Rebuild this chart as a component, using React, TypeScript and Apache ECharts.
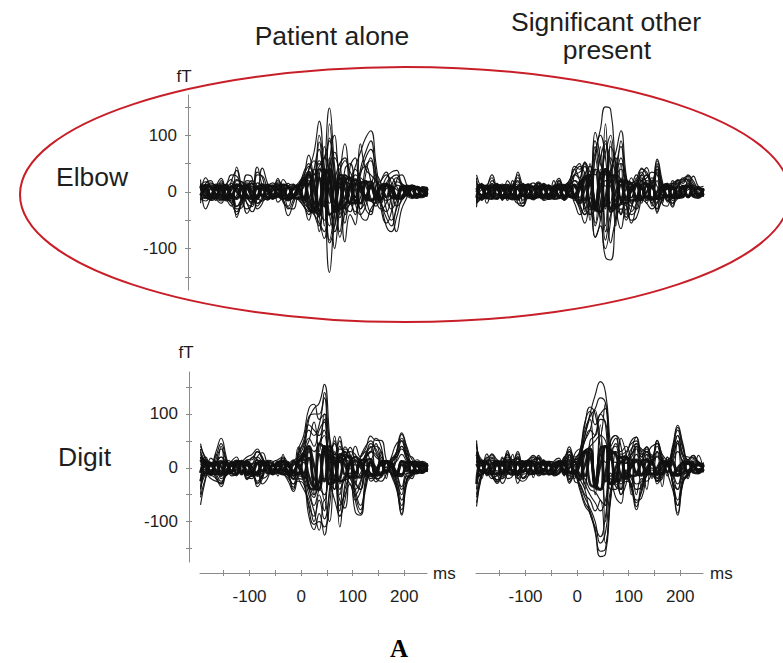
import React, { useEffect, useRef } from "react";
import * as echarts from "echarts";

// time samples (ms)
const TIMES = [
  -195, -185, -175, -165, -155, -145, -135, -125, -115, -105,
  -95, -85, -75, -65, -55, -45, -35, -25, -15, -5,
  5, 15, 25, 35, 45, 55, 65, 75, 85, 95,
  105, 115, 125, 135, 145, 155, 165, 175, 185, 195,
  205, 215, 225, 235, 245,
];

const Y_TICKS = [-150, -100, -50, 0, 50, 100, 150];
const Y_LABELS = [-100, 0, 100];
const X_TICKS = [-150, -100, -50, 0, 50, 100, 150, 200];
const X_LABELS = [-100, 0, 100, 200];

const COL_TITLES = ["Patient alone", "Significant other", "present"];
const ROW_LABELS = ["Elbow", "Digit"];

// ---- Elbow, patient alone (fT) ----
const EA1 = [5, -8, 6, 10, 4, -6, -12, 8, 10, -5, -8, 6, 4, -4, 2, 6, -3, -10, 4, 2, 8, 25, 18, -70, 35, 148, 45, -25, 18, 12, -15, 8, 20, 10, -8, -12, 6, 10, 4, -6, 5, 8, -4, 3, 2];
const EA2 = [-6, 4, 10, -5, 8, 12, -4, -10, 5, 8, 10, -6, -5, 4, -3, -8, 5, 8, -4, -5, 12, 40, 70, 125, 10, -142, -40, 30, 85, 20, -10, 25, 12, -15, -20, 8, 12, -8, -10, 5, -6, 4, 8, -5, -3];
const EA3 = [15, -10, -8, 12, 6, -10, 20, 38, -15, -30, -20, 35, 25, -10, -8, 12, 5, -15, -10, 4, 25, 65, 30, 88, -15, -60, 15, -80, -35, 15, 40, 20, -10, 8, 18, 5, -15, -10, 12, 8, -5, -8, 6, 4, -2];
const EA4 = [-8, 6, 12, 4, -10, 8, -5, -40, -20, 10, 15, -8, -5, 6, 10, 5, -12, -8, 6, -3, -10, 15, 30, 45, 60, 35, -25, 10, 30, 20, 45, 70, 95, 108, 50, -15, -60, -70, -45, -10, 8, 12, -5, -4, 5];
const EA5 = [6, 12, -5, -15, 20, 5, -8, 10, 8, -20, -35, -10, 42, 15, -5, -8, 22, 8, -12, 6, -18, -30, -40, -55, -70, 20, 60, 25, -88, -40, -58, 85, 40, 30, 20, 10, 25, 35, 38, 15, 10, 5, -4, 8, 6];
const EA6 = [22, -30, -10, 10, 24, -5, -20, 44, 5, -38, -15, 44, 10, -8, 8, 20, -10, -42, -20, 5, 15, -20, -35, 30, 60, 90, -20, -45, 15, 25, -20, 30, 60, 75, 35, -30, -55, -35, 20, 30, 12, -8, -10, 6, 4];
const EA7 = [-15, 25, 8, -12, -20, 5, 15, -45, -12, 30, 25, -30, -20, 6, -10, 24, 12, 15, -8, -10, -20, 40, 55, -40, -82, 50, 100, 40, 55, 35, 15, -40, -50, -30, -15, 20, 35, -20, -70, -30, -10, 12, 8, -6, -8];
const EA8 = [10, 9, -10, -11, 9, 12, -8, -12, 10, 11, -9, -12, 10, 9, -11, -8, 12, 10, -9, -12, 20, 35, -30, -40, 35, 30, -35, -25, 20, 25, -18, -20, 15, 18, -12, -14, 12, 10, -10, -12, 9, 10, -8, -9, 6];
const EA9 = [10, -9, -12, 8, 11, -10, -9, 12, 10, -11, -10, 9, 12, -10, -9, 11, 10, -12, -8, 10, 25, -30, -35, 40, 30, -40, -30, 30, 25, -20, -20, 15, 18, -14, -12, 12, 14, -10, -12, 10, 9, -8, -10, 8, 6];
const EA10 = [12, 0, -12, 11, 2, -13, 10, 1, -12, 12, 0, -11, 13, 1, -12, 10, 0, -13, 12, 2, -15, 30, 5, -35, 40, 0, -30, 25, 5, -20, 15, 2, -14, 12, 0, -12, 11, 1, -10, 10, 0, -9, 8, 1, -6];
const EA11 = [-20, 15, 20, -8, -16, 12, 22, -25, -10, 20, 16, -20, -14, 10, 12, -18, -8, 10, 14, -10, -25, -40, 10, 55, 25, -85, -30, 50, -30, -20, 30, 20, -30, -40, 10, 20, 30, 15, -25, -15, 10, 8, -10, -6, 6];
const EA12 = [12, 5, -15, -10, 14, -12, -25, 20, 18, -8, -22, 16, 10, -12, 8, 14, -18, -25, 6, 10, 12, 30, -20, -25, 80, 30, -60, -20, -40, 45, 60, -30, -15, 15, -5, -20, 15, 25, 10, -8, 6, -10, 8, 5, -6];
const EA13 = [12, 18, 6, -8, -14, -4, 10, 22, 12, -10, -18, -6, 8, 14, 6, -6, -12, -4, 8, 16, 30, 45, 20, -30, -50, 40, 70, 20, -25, -35, 10, 35, 45, 20, -15, -30, -20, 10, 25, 12, -6, -12, -4, 6, 8];
const EA14 = [-10, -16, -4, 10, 16, 6, -12, -26, -14, 8, 20, 10, -6, -14, -8, 4, 14, 10, -6, -14, -25, -35, 10, 50, 30, -40, -70, -15, 30, 20, -20, -40, -25, 10, 30, 15, -10, -30, -15, 8, 12, 6, -6, -8, -4];
const EA15 = [4, 10, 16, 8, -6, -16, -10, 6, 18, 8, -10, -20, -8, 10, 16, 4, -10, -16, -6, 10, 20, -10, 40, 75, 20, 95, 30, -40, 40, 50, 5, -30, 30, 60, 20, -20, -35, -10, 18, 14, 4, -8, -10, 2, 6];
const EA16 = [-6, 4, 14, 12, -4, -14, -8, -30, -28, 4, 14, 6, -10, -14, 2, 16, 10, -28, -30, -8, -20, -50, -25, -45, 20, -90, -60, 10, -55, -20, -40, 15, -10, -35, -15, 10, -30, -50, -30, 4, 10, 2, -8, -6, 4];
const EA17 = [8, -4, -12, -6, 8, 14, 30, 28, 2, -20, -26, 30, 28, 4, -10, -4, 12, 8, -6, 4, 35, 50, 15, 100, 40, -20, 20, 50, 60, 5, -15, 40, 70, 90, 30, -10, 10, 25, 30, 10, -4, 6, 10, 2, -4];
const EA18 = [-14, -6, 8, 14, 6, -10, -16, -6, 10, 16, 8, -10, -16, -4, 10, 14, 4, -10, -12, 2, 12, 20, -35, -60, 15, 60, -100, -30, 25, -10, -35, -10, 20, -10, -25, -5, 15, 10, -10, -12, -4, 6, 10, 4, -6];
const EA19 = [6, 12, 8, -4, -12, -9, 5, 13, 8, -5, -13, -8, 6, 12, 7, -6, -12, -7, 6, 12, 15, -10, -30, -20, 25, 40, 10, -30, -25, 10, 22, 12, -10, -15, -5, 10, 12, 4, -10, -10, 3, 10, 5, -6, -4];
const EA20 = [-4, -12, -8, 4, 12, 8, -20, -35, -10, 14, 4, -25, -12, 8, 12, -2, -14, -30, -14, 8, -10, -30, 40, 30, -60, 120, 20, -70, -10, 15, 20, -20, 45, 55, 5, -20, -45, -60, -25, 6, 8, -6, -8, 4, 2];
const EA21 = [-6, 7, -8, 6, -7, 8, -6, 7, -8, 6, -7, 8, -6, 7, -8, 6, -7, 8, -6, 7, -10, 15, -20, 25, -25, 20, -18, 15, -12, 10, -9, 8, -7, 9, -8, 7, -9, 8, -7, 6, -6, 7, -6, 5, -4];

// ---- Elbow, significant other present (fT) ----
const EB1 = [30, 5, -6, 12, 4, -5, 8, 10, 6, -6, 5, -8, 6, 4, -5, 8, -6, 5, 10, 20, 15, 10, 30, 70, 110, 150, 145, 40, -10, 5, 15, -8, 20, 12, 25, 10, -6, 8, 12, -5, 8, 12, -4, 6, 5];
const EB2 = [-27, 8, 6, -10, -5, 10, -6, 8, -8, -25, -6, 10, -5, -8, 6, -10, 5, -8, -6, -12, -30, -55, -20, -80, -60, -115, -120, -40, 20, 10, -20, -10, 5, -15, -8, -35, -10, 6, -25, 8, -6, 10, -5, -8, 4];
const EB3 = [20, -10, 8, 30, 5, -8, 6, -4, 35, 10, -5, 8, 18, 6, -4, 10, 24, 8, 15, 45, 40, 52, 35, 105, 60, 10, 40, 70, 108, 30, -10, 20, 40, 35, 15, 55, 10, -10, 8, 20, 22, 15, 28, 10, 6];
const EB4 = [-20, 12, -6, 8, -10, 6, -12, 10, 20, -15, 10, -6, 8, -10, 6, -8, 12, -6, 8, -10, -25, -40, -30, -80, -50, 20, 10, -30, -65, -30, -50, -45, -10, 20, 15, -30, 5, -15, -20, 8, 10, -8, 6, -6, 5];
const EB5 = [10, -8, 12, -6, 8, -10, 6, 12, -8, 10, -8, 6, -10, 8, -6, 10, -8, 6, 12, 30, 20, -20, 15, 40, 30, -30, 60, 35, 20, -10, 25, 10, 42, 30, 15, 58, 20, -10, -5, 22, 15, 30, 20, 8, 10];
const EB6 = [-15, 10, -8, 15, -6, 12, -10, 8, -12, 14, 10, -12, 8, -6, 12, -10, 8, -12, 10, -15, 20, -35, 50, -30, 80, -60, 90, -50, 25, -40, 15, -20, 25, -15, 20, -38, 12, -18, 15, -10, 12, -10, 8, -8, 6];
const EB7 = [12, 8, -10, -12, 9, 11, -9, -11, 10, 12, -10, -11, 9, 10, -12, -9, 11, 12, -8, -10, 15, 25, -25, -30, 30, 40, -35, -25, 20, 20, -15, -14, 12, 15, -12, -12, 10, 12, -10, -9, 10, 11, -8, -10, 6];
const EB8 = [-10, 11, 10, -9, -12, 10, 12, -8, -11, 9, 12, -10, -9, 11, 10, -12, -10, 9, 12, -8, -20, 25, 30, -30, -35, 40, 30, -25, -20, 18, 15, -12, -14, 12, 11, -12, -10, 10, 9, -10, -9, 10, 8, -8, -6];
const EB9 = [0, 12, -11, 1, 12, -12, 0, 11, -13, 2, 12, -11, 0, 13, -12, 1, 11, -12, 0, 12, -15, 5, 30, -30, 5, 35, -30, 0, 20, -15, 2, 12, -12, 0, 11, -11, 1, 10, -10, 0, 9, -9, 1, 7, -6];
const EB10 = [-20, 15, -5, 10, 12, -15, 20, 5, -10, 15, -8, -12, 15, 10, -10, 12, 5, -15, 8, 20, 10, 35, -50, 40, -45, 85, 50, -60, 50, -50, -30, 25, -20, 10, -25, 35, -15, 15, -12, 18, -10, 20, -8, 6, -8];
const EB11 = [25, -15, 10, 25, -8, 5, -15, 10, 30, -20, 5, 10, -8, 15, 6, -10, 20, 6, -8, 30, 45, 30, -40, 60, -20, -100, -50, 40, 80, -20, -40, -30, 20, 30, -15, 40, -20, 10, 15, 12, 20, 25, -6, 10, -8];
const EB12 = [-10, 10, -20, 5, 15, -12, -8, 20, -20, -25, 12, 8, 15, -15, -10, 20, -12, 10, 20, 40, 50, -30, -10, 90, 50, 30, 80, 50, -20, -25, -55, -20, 30, 15, -20, 50, -20, -25, 20, 15, 25, 20, 10, -6, 6];
const EB13 = [15, 8, -4, 20, 8, -6, -10, 4, 25, 6, -8, -4, 10, 6, -6, 2, 16, 4, 12, 30, 35, 45, -20, 60, 100, 60, -30, 20, 60, 10, -20, -30, 10, 30, 20, 40, 5, -15, -8, 12, 18, 22, 10, -4, 4];
const EB14 = [-18, -8, 4, -8, -12, 2, 8, -6, -20, -20, 4, 8, -6, -10, 4, 8, -6, -10, -4, -20, -40, -20, 30, -60, -20, 40, -90, -50, -30, -45, 10, 20, -10, -20, -30, -20, 10, 15, -15, -10, -4, -10, 6, -4, -2];
const EB15 = [8, 14, 6, -6, -10, 2, 10, 14, 4, -8, -10, 2, 12, 8, -4, -10, -2, 10, 16, 10, -10, 30, 45, 30, 60, 90, 20, 30, 40, 20, 15, 30, 20, 25, 35, 30, 10, 5, 15, 20, 10, 14, 6, -4, 2];
const EB16 = [-10, -14, -2, 10, 8, -6, -12, -4, 10, 12, -2, -12, -8, 6, 12, 4, -8, -14, -6, 8, 15, -25, -40, -30, 15, -70, 35, 60, -40, -20, -25, 15, -8, -10, -20, -30, -15, -5, -20, -12, -6, 4, 8, 0, -6];
const EB17 = [4, -6, -12, -4, 8, 14, 6, -8, -14, -4, 10, 16, 4, -10, -8, 4, 14, 10, -6, -4, 20, 50, 10, 40, -50, 120, -20, 40, 50, 25, -10, 15, 35, 10, -15, 20, -5, 8, 4, 10, -4, 8, 12, 4, -4];
const EB18 = [-6, 4, 12, 8, -4, -12, -8, 6, 14, 6, -6, -14, -6, 8, 12, 2, -10, -12, 2, 14, -20, -40, -10, -55, 40, -85, -40, -20, -40, 10, -35, -20, 10, -20, 10, -20, 10, -10, -6, 10, 6, -8, -4, 6, 2];
const EB19 = [-8, -12, -4, 8, 12, 6, -6, -13, -8, 6, 13, 8, -6, -12, -6, 7, 12, 5, -8, -10, 5, 25, 20, -20, -35, -10, 30, 25, -15, -20, 5, 15, 8, -10, -12, 0, 12, 8, -8, -10, 0, 9, 6, -4, -5];
const EB20 = [-20, -10, 6, 14, 4, -10, -6, 8, 18, -6, -12, 4, 16, 8, -10, -4, 20, 6, 20, 40, 25, 53, 20, 80, 30, 70, 100, 30, 90, 20, -10, 10, 30, 43, 10, 45, 15, -8, -27, 10, 23, 28, 15, 4, 6];
const EB21 = [7, -6, 8, -7, 6, -8, 7, -6, 8, -7, 6, -8, 7, -6, 8, -7, 6, -8, 7, -6, 10, -14, 18, -22, 25, -25, 20, -16, 12, -10, 9, -8, 7, -9, 8, -7, 9, -8, 7, -6, 6, -7, 6, -5, 4];

// ---- Digit, patient alone (fT) ----
const DA1 = [30, 10, -5, 8, 20, 10, -8, 5, -6, 10, 8, 15, 5, -6, 4, 6, -5, 4, -10, 15, 30, 90, 110, 120, 155, 60, -40, 20, 30, 10, -20, -10, 15, 30, 20, 10, -6, 8, 25, 40, 15, 10, -5, 6, 4];
const DA2 = [-69, -20, 10, -15, -30, -10, 8, -12, 6, -15, -10, -25, -12, 8, -6, -8, 6, -10, -40, -20, -25, -90, -115, -85, -125, -40, 30, -110, -30, 10, -60, -85, -20, 10, -15, -10, 8, -15, -40, -85, -20, -10, 8, -6, -5];
const DA3 = [45, 15, 8, 30, 55, 20, -10, 8, 12, 20, 25, 35, 15, 6, -8, 10, 15, -10, -20, 35, 60, 110, 118, 90, 100, 55, 25, 58, 20, 38, 10, -15, 20, 30, 55, 40, -10, 15, 30, 62, 35, 10, 15, 8, 6];
const DA4 = [-40, 10, -12, -20, -35, -8, 12, -10, -6, -18, -20, -10, -30, -20, 6, -10, -12, -25, -44, -10, 10, -35, -70, -40, -20, -30, -60, -90, -40, -15, -82, -88, -40, -10, -26, -15, -5, -10, -35, -88, -30, -15, -10, -8, -5];
const DA5 = [20, -8, 6, 12, -10, 8, -5, 10, 6, -8, 6, 20, 10, -6, 8, -5, 10, 6, -12, 39, 20, 30, -50, 40, 70, -30, 59, 10, 39, 20, -30, 20, 35, 59, 51, 51, 15, -10, 30, 65, 39, 15, 10, 5, 8];
const DA6 = [-25, 12, -15, 8, -20, -12, 10, -8, 12, -10, -10, -35, -20, 12, -6, 10, -8, 6, 15, -20, -40, -60, -100, -50, -80, 25, 10, -80, -20, -30, -50, -30, 10, -25, -15, 12, -10, 8, -20, -50, -15, -20, 6, -5, 5];
const DA7 = [20, 10, -10, -12, 9, 11, -10, -12, 10, 11, -9, -12, 10, 9, -11, -8, 12, 10, -9, -12, 25, 40, -35, -40, 40, 30, -25, -20, 18, 20, -15, -18, 14, 16, -12, -14, 12, 10, -14, -15, 10, 10, -8, -9, 6];
const DA8 = [-25, -9, -12, 8, 11, -10, -9, 12, 10, -11, -10, 9, 12, -10, -9, 11, 10, -12, -8, 10, 25, -35, -40, 45, 35, -30, -25, 25, 20, -18, -16, 14, 15, -12, -12, 12, 12, -10, -15, 12, 9, -8, -10, 8, 6];
const DA9 = [15, 0, -12, 11, 2, -13, 10, 1, -12, 12, 0, -11, 13, 1, -12, 10, 0, -13, 12, 2, -20, 35, 5, -40, 40, 0, -25, 20, 5, -18, 14, 2, -14, 12, 0, -12, 11, 1, -14, 12, 0, -9, 8, 1, -6];
const DA10 = [35, -15, 18, 10, 40, -5, 12, 20, -10, 15, 15, 30, 20, -8, 10, 15, 20, 5, -15, 25, 45, 70, 60, 80, 130, -20, -40, 40, 25, 20, 40, 20, 30, 15, 45, 20, 10, -5, 15, 50, 25, 20, 10, 12, 6];
const DA11 = [-50, -10, -20, -25, -28, 8, -15, -12, 10, -22, -15, -28, -15, 10, -12, -6, -10, -20, -30, 5, -15, -50, -80, -116, -60, -100, -20, -60, -75, 5, -40, -70, -35, 10, -20, -25, -12, 6, -30, -70, -25, -12, -6, -10, 5];
const DA12 = [10, 20, -10, 25, -15, 14, 10, -15, 14, -12, 20, 15, -18, 14, 12, -15, 25, -15, 12, 20, 30, 50, 85, 30, 100, 20, 50, -30, 35, 25, -25, -40, 25, 40, -15, 30, -20, 18, 20, 40, 20, -15, 8, 10, -8];
const DA13 = [25, 5, -10, 15, 35, 12, -6, 4, 14, 8, -6, 20, 28, 6, -8, 4, 14, 2, -14, 20, 40, 80, 70, 60, 90, 30, 45, 10, 25, 20, -10, 20, 40, 50, 30, 10, -8, 20, 45, 50, 20, 4, -6, 4, 2];
const DA14 = [-35, -10, 6, -10, -25, -14, 4, -6, -2, -14, -16, -8, -20, -14, 4, -6, -10, -14, -30, -25, -30, -70, -90, -60, -95, -50, 10, -70, -50, -30, -60, -45, -15, -20, -10, 4, -6, -10, -25, -60, -20, -6, 4, -4, -2];
const DA15 = [18, 8, -4, 10, 20, -2, -8, 6, 10, 4, 2, 14, 10, -4, 2, 8, 12, 2, -8, 10, 30, 55, 40, 70, 85, 15, 10, 35, 30, 15, 5, 10, 25, 45, 35, 15, 0, 10, 20, 35, 20, 8, 4, 2, 2];
const DA16 = [-15, 6, 10, -6, -12, 4, 8, -4, 2, -8, -6, -14, -4, 6, -2, 4, -4, -6, -20, -8, -10, -40, -55, -25, -60, 10, 20, -50, -15, -20, -40, -25, 5, -10, -18, 5, -6, 4, -10, -35, -10, -10, 4, -2, 2];
const DA17 = [8, -4, 4, 8, 14, 4, -4, 4, 6, 4, 6, 10, 6, -2, 4, 2, 6, 2, -6, 14, 20, 40, 30, 45, 60, 10, 25, 20, 15, 10, -8, 10, 20, 30, 25, 8, -4, 6, 12, 25, 12, 6, 2, 4, 2];
const DA18 = [-20, -4, 2, -8, -16, -4, 4, -4, 2, -8, -6, -16, -8, 4, -4, -2, -4, -8, -22, -10, -15, -30, -50, -40, -50, -15, 10, -40, -20, -10, -30, -40, -10, 4, -8, -8, -4, 4, -14, -40, -12, -6, 2, -4, -2];
const DA19 = [40, 18, 4, 22, 45, 15, -6, 10, 8, 14, 18, 30, 18, 4, -4, 8, 18, -6, -16, 28, 50, 95, 100, 100, 140, 40, 10, 50, 28, 30, 25, 5, 22, 38, 40, 30, -6, 12, 28, 55, 30, 10, 12, 6, 4];
const DA20 = [-55, -18, 4, -20, -30, -6, 4, -10, 6, -20, -12, -30, -14, 8, -10, -6, -4, -16, -36, -15, -20, -75, -105, -100, -110, -70, 20, -90, -60, 0, -50, -78, -30, 8, -20, -18, 2, -12, -36, -78, -22, -12, 4, -8, -4];
const DA21 = [-10, 12, 8, -4, -12, -9, 5, 13, 8, -5, -13, -8, 6, 12, 7, -6, -12, -7, 6, 12, 15, -15, -35, -25, 30, 40, 10, -25, -20, 10, 20, 12, -10, -15, -5, 10, 12, 4, -12, -12, 3, 10, 5, -6, -4];
const DA22 = [-8, 7, -8, 6, -7, 8, -6, 7, -8, 6, -7, 8, -6, 7, -8, 6, -7, 8, -6, 7, -10, 18, -22, 25, -25, 20, -16, 14, -12, 10, -9, 8, -7, 9, -8, 7, -9, 8, -7, 6, -6, 7, -6, 5, -4];

// ---- Digit, significant other present (fT) ----
const DB1 = [51, 10, 15, 8, -6, 10, 25, -5, 8, 12, 6, -8, 10, 5, -6, 8, 12, 5, 20, 10, 20, 60, 100, 135, 160, 140, 40, -10, 10, 15, 25, 40, 10, 30, 15, 20, 10, -6, 15, 50, 10, 8, -5, 6, 8];
const DB2 = [-72, -15, 10, -12, -29, -8, 12, -10, 6, -20, -8, 10, -12, -6, 8, -10, -5, 10, -29, -15, -40, -70, -85, -120, -165, -160, -60, -10, -30, -20, -40, -78, -30, -15, -10, -20, -8, 10, -30, -88, -30, -10, -6, 8, -5];
const DB3 = [30, -10, 26, 10, 8, -12, 32, 10, 30, 8, 15, 23, 10, -5, 12, 10, 6, 15, 39, 20, 30, 80, 113, 100, 40, 10, 50, 60, 20, 25, 50, 57, 30, 39, 20, 51, 15, 10, 40, 79, 45, 15, 23, 10, 6];
const DB4 = [-40, -8, -10, -20, -15, -29, -10, 8, -29, -12, -10, 6, -15, -8, 10, -12, 8, -6, -15, 10, -20, -40, -85, -110, -128, -90, -20, -55, -66, -10, -30, -60, -56, -10, 15, -30, -15, 8, -25, -60, -20, -15, 8, -6, 5];
const DB5 = [20, -6, 8, -10, 12, 6, -8, 10, -6, 8, -10, 12, 8, -8, 6, -10, 8, 12, -10, 15, 25, -30, 40, -50, 60, -70, 50, 60, 40, -20, 30, 57, 20, 39, 10, 51, 20, -15, 30, 70, 35, 15, 23, 12, 5];
const DB6 = [25, 8, -10, -12, 9, 11, -9, -11, 10, 12, -10, -11, 9, 10, -12, -9, 11, 12, -8, -10, 18, 30, -30, -35, 35, 40, -30, -25, 20, 20, -15, -14, 12, 15, -12, -12, 10, 12, -14, -14, 10, 11, -8, -10, 6];
const DB7 = [-30, 11, 10, -9, -12, 10, 12, -8, -11, 9, 12, -10, -9, 11, 10, -12, -10, 9, 12, -8, -22, 30, 35, -35, -40, 40, 30, -25, -20, 18, 15, -12, -14, 12, 11, -12, -10, 10, 12, -14, -9, 10, 8, -8, -6];
const DB8 = [10, 12, -11, 1, 12, -12, 0, 11, -13, 2, 12, -11, 0, 13, -12, 1, 11, -12, 0, 12, -15, 5, 35, -35, 5, 40, -30, 0, 20, -15, 2, 12, -12, 0, 11, -11, 1, 10, -12, 0, 9, -9, 1, 7, -6];
const DB9 = [-30, 5, -15, 18, -10, 20, -12, 25, -15, 8, 12, -18, 23, 10, -8, 12, 18, -15, 25, -20, 15, 60, 90, -40, 80, -100, 30, 40, -40, 20, -50, 40, -40, 25, -20, 30, -35, 20, -15, 50, -20, 15, -10, 23, -8];
const DB10 = [-55, -10, 20, -15, 8, -20, -10, 15, -18, -25, -15, 20, -8, 15, -12, -10, 14, -12, 25, -25, -30, -50, -60, -80, -60, -140, -50, 30, -50, -30, 20, -50, -20, -25, -15, -25, 20, -10, -40, -70, -25, -15, 10, -10, 6];
const DB11 = [40, 15, 12, 26, 15, 10, 28, 15, 20, -10, 10, 15, 20, 8, 12, 10, 6, 20, 30, 15, 20, 50, 70, 107, 60, 120, 20, 45, 30, 40, 20, 45, 35, 30, 40, 45, 25, 15, 30, 60, 25, 20, 18, 10, 8];
const DB12 = [15, -20, 10, -5, -25, 18, -20, -15, 22, -20, -15, -8, 18, -12, 10, -15, -10, 20, -20, 25, 35, -40, 50, 60, 100, 80, -40, -40, 55, 25, -35, 40, 30, -40, 25, -25, -20, 20, -25, -40, 15, -20, 10, -8, 10];
const DB13 = [30, 8, 12, 20, 6, 4, 20, 10, 18, 6, 10, 14, 16, 4, 8, 6, 10, 12, 30, 14, 25, 70, 95, 110, 130, 120, 30, 25, 20, 20, 35, 45, 20, 30, 15, 40, 12, 6, 25, 60, 25, 10, 15, 8, 4];
const DB14 = [-50, -12, -6, -14, -22, -20, -4, -4, -20, -8, -6, -4, -10, -6, 4, -8, 2, -4, -22, -6, -30, -55, -75, -100, -140, -120, -40, -30, -50, -15, -35, -65, -45, -12, 0, -25, -10, 4, -25, -70, -25, -10, 2, -6, -2];
const DB15 = [20, 4, 14, 14, 4, -4, 16, 6, 16, 4, 8, 12, 8, -2, 6, 6, 4, 10, 24, 10, 20, 50, 70, 60, 90, 85, 20, 30, 20, 10, 25, 35, 15, 25, 10, 30, 10, 4, 20, 45, 20, 8, 12, 6, 4];
const DB16 = [-25, -4, -4, -10, -10, -16, -4, 4, -14, -6, -4, 4, -8, -4, 6, -6, 4, -2, -10, 4, -10, -30, -50, -65, -80, -60, -10, -35, -40, -6, -20, -40, -35, -6, 8, -18, -8, 4, -14, -40, -14, -8, 4, -4, 2];
const DB17 = [10, 4, 8, -2, 6, 4, 10, 6, 12, 2, 4, 8, 6, -4, 6, 2, 6, 8, 16, 6, 12, 30, 40, 50, 60, 50, 15, 10, 10, 8, 12, 25, 10, 18, 8, 22, 6, 2, 12, 30, 12, 6, 8, 4, 2];
const DB18 = [-14, -4, -6, -6, -14, -12, -2, 2, -12, -4, -2, 2, -6, -2, 4, -4, 2, -2, -12, 2, -14, -20, -40, -45, -60, -70, -15, -20, -25, -4, -15, -30, -25, -4, 6, -14, -4, 2, -10, -30, -10, -4, 2, -2, 2];
const DB19 = [45, 12, 18, 24, 10, 8, 24, 12, 26, 6, 12, 20, 18, 6, 10, 8, 8, 16, 34, 16, 30, 85, 105, 80, 100, 110, 40, 55, 25, 30, 45, 50, 25, 35, 18, 46, 15, 8, 35, 75, 40, 12, 20, 10, 6];
const DB20 = [-65, -14, 8, -16, -26, -12, 4, -8, -6, -18, -8, 8, -12, -8, 8, -12, -2, 6, -26, -12, -35, -65, -80, -115, -155, -150, -55, -20, -40, -25, -30, -72, -40, -14, -4, -24, -10, 8, -28, -84, -28, -12, -4, 4, -4];
const DB21 = [-15, -12, -4, 8, 12, 6, -6, -13, -8, 6, 13, 8, -6, -12, -6, 7, 12, 5, -8, -10, 5, 30, 25, -25, -40, -10, 30, 25, -15, -20, 5, 15, 8, -10, -12, 0, 12, 8, -10, -12, 0, 9, 6, -4, -5];
const DB22 = [7, -6, 8, -7, 6, -8, 7, -6, 8, -7, 6, -8, 7, -6, 8, -7, 6, -8, 7, -6, 10, -15, 20, -25, 25, -25, 20, -16, 12, -10, 9, -8, 7, -9, 8, -7, 9, -8, 7, -6, 6, -7, 6, -5, 4];

// waveforms per panel: full traces, and low-level "band" traces drawn thicker
const ELBOW_ALONE = [EA1, EA2, EA3, EA4, EA5, EA6, EA7, EA11, EA12, EA13, EA14, EA15, EA16, EA17, EA18, EA20];
const ELBOW_ALONE_BAND = [EA8, EA9, EA10, EA19, EA21];
const ELBOW_OTHER = [EB1, EB2, EB3, EB4, EB5, EB6, EB10, EB11, EB12, EB13, EB14, EB15, EB16, EB17, EB18, EB20];
const ELBOW_OTHER_BAND = [EB7, EB8, EB9, EB19, EB21];
const DIGIT_ALONE = [DA1, DA2, DA3, DA4, DA5, DA6, DA10, DA11, DA12, DA13, DA14, DA15, DA16, DA17, DA18, DA19, DA20];
const DIGIT_ALONE_BAND = [DA7, DA8, DA9, DA21, DA22];
const DIGIT_OTHER = [DB1, DB2, DB3, DB4, DB5, DB9, DB10, DB11, DB12, DB13, DB14, DB15, DB16, DB17, DB18, DB19, DB20];
const DIGIT_OTHER_BAND = [DB6, DB7, DB8, DB21, DB22];

const FONT = "'Liberation Sans', Arial, Helvetica, sans-serif";
const AXIS_COLOR = "#8a8a8a";
const TEXT_COLOR = "#1e1e1e";

export default function App() {
  const ref = useRef<HTMLDivElement>(null);

  useEffect(() => {
    if (!ref.current) return;
    const chart = echarts.init(ref.current, undefined, { renderer: "svg" });

    const X_MIN = -196;
    const X_MAX = 244;
    const topY = { min: -173, max: 171 };
    const botY = { min: -175, max: 178 };

    const grids = [
      { left: 200, top: 95, width: 227, height: 195 },
      { left: 476, top: 95, width: 227, height: 195 },
      { left: 200, top: 372, width: 227, height: 190 },
      { left: 476, top: 372, width: 227, height: 190 },
    ];

    const hiddenX = (g: number) => ({
      type: "value", gridIndex: g, min: X_MIN, max: X_MAX, show: false,
    });
    const visibleX = (g: number) => ({
      type: "value", gridIndex: g, min: X_MIN, max: X_MAX, position: "bottom", offset: 11,
      axisLine: { show: true, onZero: false, lineStyle: { color: AXIS_COLOR, width: 1 } },
      axisTick: { show: true, length: 3, lineStyle: { color: AXIS_COLOR }, customValues: X_TICKS },
      axisLabel: { show: true, customValues: X_LABELS, fontSize: 17, color: TEXT_COLOR, fontFamily: FONT, margin: 15 },
      splitLine: { show: false },
    });
    const innerTickX = (g: number) => ({
      type: "value", gridIndex: g, min: X_MIN, max: X_MAX, position: "bottom", offset: 11,
      axisLine: { show: false, onZero: false },
      axisTick: { show: true, inside: true, length: 3, lineStyle: { color: AXIS_COLOR }, customValues: X_TICKS },
      axisLabel: { show: false },
      splitLine: { show: false },
    });
    const hiddenY = (g: number, r: any) => ({
      type: "value", gridIndex: g, min: r.min, max: r.max, show: false,
    });
    const visibleY = (g: number, r: any, off: number) => ({
      type: "value", gridIndex: g, min: r.min, max: r.max, position: "left", offset: off,
      axisLine: { show: true, onZero: false, lineStyle: { color: AXIS_COLOR, width: 1 } },
      axisTick: { show: true, length: 3, lineStyle: { color: AXIS_COLOR }, customValues: Y_TICKS },
      axisLabel: { show: true, customValues: Y_LABELS, fontSize: 17, color: TEXT_COLOR, fontFamily: FONT, margin: 11 },
      splitLine: { show: false },
    });
    const innerTickY = (g: number, r: any, off: number) => ({
      type: "value", gridIndex: g, min: r.min, max: r.max, position: "left", offset: off,
      axisLine: { show: false, onZero: false },
      axisTick: { show: true, inside: true, length: 3, lineStyle: { color: AXIS_COLOR }, customValues: Y_TICKS },
      axisLabel: { show: false },
      splitLine: { show: false },
    });

    const xAxis = [hiddenX(0), hiddenX(1), visibleX(2), visibleX(3), innerTickX(2), innerTickX(3)];
    const yAxis = [
      visibleY(0, topY, 12),
      hiddenY(1, topY),
      visibleY(2, botY, 11),
      hiddenY(3, botY),
      innerTickY(0, topY, 12),
      innerTickY(2, botY, 11),
    ];

    const panels = [
      { full: ELBOW_ALONE, band: ELBOW_ALONE_BAND },
      { full: ELBOW_OTHER, band: ELBOW_OTHER_BAND },
      { full: DIGIT_ALONE, band: DIGIT_ALONE_BAND },
      { full: DIGIT_OTHER, band: DIGIT_OTHER_BAND },
    ];
    const series: any[] = [];
    const addTrace = (p: number, tr: number[], name: string, width: number) => {
      series.push({
        type: "line",
        name,
        xAxisIndex: p,
        yAxisIndex: p,
        data: TIMES.map((t, i) => [t, tr[i]]),
        smooth: 0.5,
        showSymbol: false,
        silent: true,
        lineStyle: { width, color: "#111111", opacity: 0.95 },
      });
    };
    panels.forEach((pn, p) => {
      pn.band.forEach((tr, k) => addTrace(p, tr, `b${p}_${k}`, 2.6));
      pn.full.forEach((tr, k) => addTrace(p, tr, `f${p}_${k}`, 1.15));
    });

    const text = (t: string, x: number, y: number, size: number, align = "center", extra: any = {}) => ({
      type: "text",
      x,
      y,
      silent: true,
      style: {
        text: t,
        fontSize: size,
        fontFamily: FONT,
        fill: TEXT_COLOR,
        align,
        verticalAlign: "middle",
        ...extra,
      },
    });

    const graphic = [
      {
        type: "ellipse",
        silent: true,
        shape: { cx: 405, cy: 194.5, rx: 385, ry: 127.5 },
        style: { fill: "none", stroke: "#c81e28", lineWidth: 2 },
      },
      text(COL_TITLES[0], 332, 36, 26.5),
      text(COL_TITLES[1], 606, 21.5, 26.5),
      text(COL_TITLES[2], 607, 50, 26.5),
      text(ROW_LABELS[0], 56, 177, 26.5, "left"),
      text(ROW_LABELS[1], 58, 457, 26.5, "left"),
      text("fT", 184, 76, 17),
      text("fT", 186, 352, 17),
      text("ms", 433, 573, 17, "left"),
      text("ms", 710, 573, 17, "left"),
      text("A", 399, 648, 25, "center", { fontFamily: "'Liberation Serif', 'Times New Roman', serif", fontWeight: "bold", fill: "#000" }),
    ];

    chart.setOption({
      animation: false,
      backgroundColor: "#ffffff",
      grid: grids,
      xAxis,
      yAxis,
      series,
      graphic,
    });

    return () => chart.dispose();
  }, []);

  return (
    <div
      ref={ref}
      style={{ position: "absolute", left: 0, top: 0, width: 783, height: 663, background: "#fff" }}
    />
  );
}
